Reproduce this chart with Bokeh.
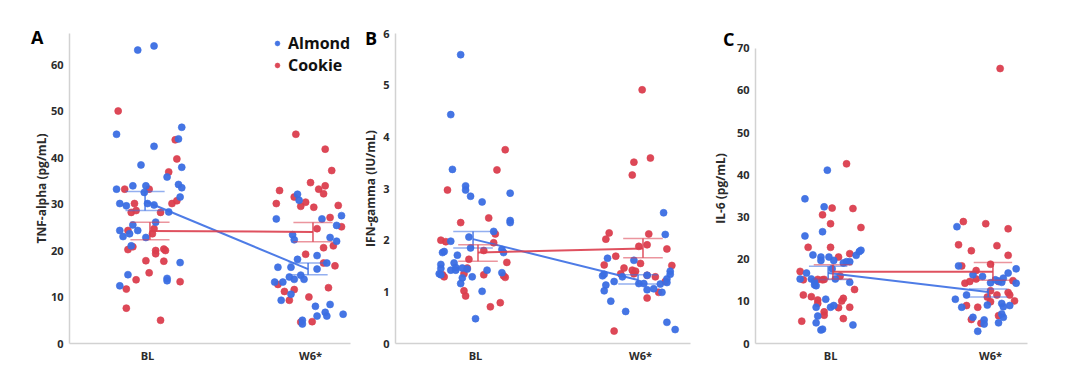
from bokeh.plotting import figure
from bokeh.layouts import row
from bokeh.models import Range1d, FixedTicker, Legend, LegendItem, Div
from bokeh.embed import file_html
from bokeh.resources import INLINE

BLUE = "#3b6ee3"
RED = "#db3e4e"
FONT = "Open Sans"
TXT = "#2b2b2b"

categories = ["BL", "W6*"]
groups = ["Almond", "Cookie"]
panel_letters = ["A", "B", "C"]

# ---------------- Panel A: TNF-alpha (pg/mL) ----------------
a_bl_almond = [63.1, 64.0, 45.0, 46.5, 42.4, 44.0, 38.4, 37.9, 35.8, 34.2, 33.5, 33.2, 33.9, 33.9,
               32.5, 30.1, 29.6, 30.1, 29.8, 31.5, 28.3, 26.1, 25.5, 24.3, 24.3, 23.6, 23.0, 22.8,
               21.0, 17.4, 14.8, 14.0, 13.5, 12.4]
a_bl_almond_jit = [-0.06, 0.04, -0.19, 0.21, 0.04, 0.19, -0.04, 0.21, 0.12, 0.19, 0.21, -0.19, -0.09, -0.01,
                   -0.02, -0.17, -0.13, 0.00, 0.04, 0.20, 0.13, 0.05, -0.09, -0.17, -0.06, -0.11, -0.15, -0.01,
                   -0.10, 0.20, -0.12, 0.12, 0.12, -0.17]
a_bl_cookie = [50.0, 43.8, 39.7, 36.9, 33.2, 33.2, 30.1, 30.7, 30.1, 28.2, 28.6, 28.2, 24.7, 24.3, 23.6,
               20.8, 20.2, 20.0, 19.3, 20.3, 20.0, 17.8, 17.7, 15.2, 13.7, 13.3, 11.7, 7.6, 5.0]
a_bl_cookie_jit = [-0.18, 0.17, 0.18, 0.13, -0.14, 0.01, 0.15, 0.18, -0.08, -0.10, -0.07, 0.08, 0.04, -0.12, 0.03,
                   -0.09, -0.12, 0.05, 0.05, 0.10, 0.11, -0.01, 0.10, 0.01, -0.07, 0.20, -0.13, -0.13, 0.08]
a_w6_almond = [32.1, 30.8, 26.8, 26.8, 27.5, 25.4, 23.4, 22.3, 22.8, 22.0, 18.1, 18.9, 16.4, 16.4, 16.0,
               17.3, 14.3, 13.8, 14.7, 13.8, 13.2, 13.2, 10.6, 9.3, 8.0, 8.4, 6.7, 5.9, 5.9, 6.3, 5.0, 4.2]
a_w6_almond_jit = [-0.08, -0.07, -0.21, 0.07, 0.19, 0.16, -0.11, -0.10, 0.12, 0.16, -0.08, 0.04, -0.20, -0.12, 0.04,
                   0.10, -0.13, -0.10, -0.06, -0.04, -0.22, -0.17, -0.12, -0.18, 0.03, 0.12, 0.09, 0.10, 0.04, 0.20, -0.05, -0.05]
a_w6_cookie = [45.0, 41.8, 37.2, 34.6, 33.2, 33.9, 32.2, 32.9, 30.1, 31.5, 30.4, 29.5, 29.3, 29.7, 27.1,
               25.1, 24.7, 20.6, 21.0, 19.2, 17.3, 16.7, 12.7, 11.2, 11.6, 10.0, 9.3, 12.0, 4.6, 4.7]
a_w6_cookie_jit = [-0.09, 0.09, 0.13, 0.00, 0.05, 0.09, 0.08, -0.19, -0.21, -0.10, -0.03, -0.06, 0.02, 0.17, 0.12,
                   0.19, 0.04, 0.08, 0.14, -0.03, 0.08, 0.15, -0.20, -0.16, -0.10, -0.01, -0.13, 0.11, -0.06, 0.01]
a_almond_mean = [30.6, 16.0]
a_almond_lo = [28.6, 14.8]
a_almond_hi = [32.7, 17.3]
a_cookie_mean = [24.2, 24.0]
a_cookie_lo = [22.3, 21.9]
a_cookie_hi = [26.1, 26.0]

# ---------------- Panel B: IFN-gamma (IU/mL) ----------------
b_bl_almond = [5.59, 4.43, 3.37, 3.05, 2.97, 2.85, 2.74, 2.91, 2.38, 2.34, 2.17, 2.06, 1.98, 1.85, 1.76,
               1.78, 1.82, 1.76, 1.71, 1.53, 1.45, 1.56, 1.47, 1.42, 1.42, 1.46, 1.44, 1.35, 1.33, 1.42,
               1.27, 1.29, 1.37, 1.16, 1.01, 0.48]
b_bl_almond_jit = [-0.09, -0.15, -0.14, -0.06, -0.06, -0.03, 0.04, 0.21, 0.21, 0.21, 0.11, -0.04, -0.15, -0.03, -0.20,
                   -0.19, 0.16, 0.17, -0.11, -0.21, -0.21, -0.13, -0.12, -0.15, -0.12, -0.08, -0.05, -0.22, -0.21, 0.07,
                   -0.08, -0.02, 0.16, -0.09, 0.04, 0.00]
b_bl_cookie = [3.75, 3.36, 2.97, 2.43, 2.34, 2.00, 1.97, 2.12, 1.95, 1.80, 1.63, 1.57, 1.46, 1.35, 1.33,
               1.29, 1.33, 1.31, 1.28, 1.02, 0.92, 0.71, 0.79]
b_bl_cookie_jit = [0.18, 0.13, -0.17, 0.08, -0.09, -0.21, -0.18, 0.12, 0.11, 0.05, -0.04, 0.19, -0.05, -0.07, -0.20,
                   -0.19, 0.05, 0.17, 0.18, -0.07, -0.06, 0.09, 0.15]
b_w6_almond = [2.53, 2.11, 1.65, 1.61, 1.40, 1.34, 1.31, 1.34, 1.13, 1.02, 0.82, 1.20, 0.62, 1.29, 1.16,
               1.16, 1.32, 1.04, 1.06, 1.15, 0.99, 1.25, 1.18, 0.41, 0.27]
b_w6_almond_jit = [0.14, 0.15, -0.20, -0.04, 0.18, 0.18, -0.23, -0.22, -0.21, -0.22, -0.18, -0.16, -0.09, -0.11, -0.01,
                   0.02, 0.04, 0.04, 0.08, 0.12, 0.13, 0.16, 0.16, 0.16, 0.21]
b_w6_cookie = [4.91, 3.59, 3.51, 3.26, 2.14, 2.02, 2.12, 1.91, 1.88, 1.83, 1.69, 1.52, 1.55, 1.51, 1.46,
               1.42, 1.40, 1.35, 1.35, 1.32, 1.29, 1.20, 0.99, 0.88, 0.24]
b_w6_cookie_jit = [0.01, 0.06, -0.04, -0.05, -0.19, -0.21, 0.05, 0.04, -0.01, 0.16, -0.15, -0.22, 0.00, 0.19, -0.10,
                   -0.05, -0.03, -0.04, -0.12, 0.04, 0.09, 0.15, 0.11, 0.04, -0.16]
b_almond_mean = [2.02, 1.23]
b_almond_lo = [1.85, 1.15]
b_almond_hi = [2.17, 1.33]
b_cookie_mean = [1.76, 1.84]
b_cookie_lo = [1.59, 1.66]
b_cookie_hi = [1.91, 2.03]

# ---------------- Panel C: IL-6 (pg/mL) ----------------
c_bl_almond = [41.1, 34.3, 32.4, 25.5, 26.5, 21.0, 20.5, 19.7, 20.5, 19.7, 19.1, 19.4, 19.4, 20.9, 21.8,
               22.1, 17.7, 16.7, 15.3, 15.3, 14.7, 13.9, 13.7, 15.3, 14.5, 10.5, 8.6, 9.0, 8.6, 6.5,
               4.9, 3.4, 3.2, 4.4]
c_bl_almond_jit = [-0.02, -0.16, -0.04, -0.16, -0.05, -0.11, -0.06, -0.06, -0.01, 0.02, 0.08, 0.10, 0.12, 0.16, 0.18,
                   0.19, 0.01, -0.15, -0.19, -0.12, -0.10, -0.10, -0.09, 0.03, 0.12, -0.03, 0.00, 0.02, -0.09, -0.08,
                   -0.09, -0.05, -0.06, 0.14]
c_bl_cookie = [42.6, 32.1, 32.0, 30.5, 28.4, 27.5, 22.8, 22.8, 21.3, 20.5, 17.1, 15.1, 15.2, 15.1, 15.2,
               16.0, 12.8, 11.5, 11.1, 10.3, 9.5, 10.7, 10.1, 8.5, 7.5, 6.7, 8.6, 5.9, 5.3]
c_bl_cookie_jit = [0.10, 0.01, 0.14, -0.05, 0.00, 0.19, -0.14, 0.00, 0.12, 0.05, -0.19, -0.17, -0.08, -0.05, -0.04,
                   0.06, 0.15, -0.17, -0.12, -0.08, -0.08, 0.08, 0.07, 0.05, -0.04, -0.04, 0.12, 0.08, -0.18]
c_w6_almond = [27.7, 18.4, 16.3, 15.9, 14.4, 15.1, 14.8, 14.5, 15.5, 16.7, 17.7, 14.3, 11.5, 10.5, 9.1,
               9.5, 8.7, 9.0, 8.6, 6.2, 5.6, 4.6, 7.0, 6.2, 4.9, 2.9]
c_w6_almond_jit = [-0.21, -0.20, -0.11, -0.05, 0.00, 0.03, 0.05, 0.07, 0.08, 0.11, 0.16, 0.16, -0.15, -0.22, -0.02,
                   0.07, 0.08, 0.12, -0.18, -0.11, -0.04, -0.04, 0.07, 0.08, 0.05, -0.08]
c_w6_cookie = [65.2, 28.9, 28.4, 27.2, 23.4, 22.0, 23.2, 20.9, 18.4, 18.8, 17.3, 15.3, 14.7, 14.3, 12.5,
               14.7, 14.9, 11.5, 12.1, 11.5, 10.1, 9.0, 8.6, 11.0, 9.9, 6.6, 5.7, 4.8]
c_w6_cookie_jit = [0.06, -0.17, -0.03, 0.11, -0.20, -0.12, 0.04, 0.11, -0.18, 0.00, -0.09, -0.09, -0.13, -0.16, 0.00,
                   0.05, 0.14, 0.04, 0.11, 0.12, 0.15, -0.15, -0.08, -0.02, 0.00, 0.05, -0.12, -0.06]
c_almond_mean = [16.7, 12.2]
c_almond_lo = [15.2, 11.0]
c_almond_hi = [18.3, 12.9]
c_cookie_mean = [17.0, 17.0]
c_cookie_lo = [15.3, 15.0]
c_cookie_hi = [18.7, 19.2]


def make_panel(ylabel, y_end, y_bound, y_ticks, x_start, x_end, width, b_left, b_right,
               points, stats, label_standoff):
    p = figure(width=width, height=370, output_backend="svg", toolbar_location=None,
               x_range=Range1d(x_start, x_end), y_range=Range1d(0, y_end),
               min_border_left=b_left, min_border_right=b_right, min_border_top=33, min_border_bottom=27)
    p.outline_line_color = None
    p.xgrid.grid_line_color = None
    p.ygrid.grid_line_color = None
    p.background_fill_color = "white"
    p.border_fill_color = "white"

    for ax in (p.xaxis, p.yaxis):
        ax.axis_line_color = "#d2d2d2"
        ax.axis_line_width = 1.5
        ax.major_tick_line_color = None
        ax.minor_tick_line_color = None
        ax.major_tick_out = 0
        ax.major_tick_in = 0
        ax.minor_tick_out = 0
        ax.major_label_text_font = FONT
        ax.major_label_text_font_style = "bold"
        ax.major_label_text_font_size = "11px"
        ax.major_label_text_color = TXT

    p.xaxis.major_label_standoff = 4
    p.yaxis.major_label_standoff = 6
    p.xaxis.ticker = FixedTicker(ticks=[0, 1])
    p.xaxis.major_label_overrides = {0: categories[0], 1: categories[1]}
    p.yaxis.ticker = FixedTicker(ticks=y_ticks)
    p.yaxis.bounds = (0, y_bound)
    p.yaxis.axis_label = ylabel
    p.yaxis.axis_label_text_font = FONT
    p.yaxis.axis_label_text_font_style = "bold"
    p.yaxis.axis_label_text_font_size = "12px"
    p.yaxis.axis_label_text_color = TXT
    p.yaxis.axis_label_standoff = label_standoff

    rends = {}
    for cat_idx, jit, vals, color, name in points:
        xs = [cat_idx + j for j in jit]
        r = p.scatter(xs, vals, size=7, marker="circle", fill_color=color, line_color=color,
                      fill_alpha=0.95, line_alpha=0.6)
        rends.setdefault(name, r)

    cap = 0.12
    for color, dodge, mean, lo, hi in stats:
        xc = [0 + dodge, 1 + dodge]
        p.segment(x0=xc, y0=lo, x1=xc, y1=hi, line_color=color, line_width=1.5, line_alpha=0.9)
        p.segment(x0=[x - cap for x in xc], y0=lo, x1=[x + cap for x in xc], y1=lo,
                  line_color=color, line_width=1.5, line_alpha=0.55)
        p.segment(x0=[x - cap for x in xc], y0=hi, x1=[x + cap for x in xc], y1=hi,
                  line_color=color, line_width=1.5, line_alpha=0.55)
        p.line(xc, mean, line_color=color, line_width=2, line_alpha=0.9)
    return p, rends


pA, rA = make_panel(
    "TNF-alpha (pg/mL)", 66.67, 66.67, [0, 10, 20, 30, 40, 50, 60], -0.4786, 1.2452, 358, 69, 8,
    [(0, a_bl_cookie_jit, a_bl_cookie, RED, groups[1]), (0, a_bl_almond_jit, a_bl_almond, BLUE, groups[0]),
     (1, a_w6_cookie_jit, a_w6_cookie, RED, groups[1]), (1, a_w6_almond_jit, a_w6_almond, BLUE, groups[0])],
    [(BLUE, -0.015, a_almond_mean, a_almond_lo, a_almond_hi),
     (RED, 0.015, a_cookie_mean, a_cookie_lo, a_cookie_hi)],
    -2)

legend = Legend(items=[LegendItem(label=groups[0], renderers=[rA[groups[0]]]),
                       LegendItem(label=groups[1], renderers=[rA[groups[1]]])],
                location=(202, 267), orientation="vertical",
                label_text_font=FONT, label_text_font_style="bold", label_text_font_size="16px",
                label_text_color="#111111", glyph_width=12, glyph_height=12, label_height=17,
                label_standoff=5, spacing=-3, padding=0, margin=0,
                background_fill_alpha=0, border_line_color=None)
pA.add_layout(legend, "center")

pB, _ = make_panel(
    "IFN-gamma (IU/mL)", 6, 6, [0, 1, 2, 3, 4, 5, 6], -0.485, 1.303, 347, 37, 15,
    [(0, b_bl_cookie_jit, b_bl_cookie, RED, groups[1]), (0, b_bl_almond_jit, b_bl_almond, BLUE, groups[0]),
     (1, b_w6_cookie_jit, b_w6_cookie, RED, groups[1]), (1, b_w6_almond_jit, b_w6_almond, BLUE, groups[0])],
    [(BLUE, -0.015, b_almond_mean, b_almond_lo, b_almond_hi),
     (RED, 0.015, b_cookie_mean, b_cookie_lo, b_cookie_hi)],
    1)

pC, _ = make_panel(
    "IL-6 (pg/mL)", 73.5, 70, [0, 10, 20, 30, 40, 50, 60, 70], -0.469, 1.231, 347, 50, 25,
    [(0, c_bl_cookie_jit, c_bl_cookie, RED, groups[1]), (0, c_bl_almond_jit, c_bl_almond, BLUE, groups[0]),
     (1, c_w6_cookie_jit, c_w6_cookie, RED, groups[1]), (1, c_w6_almond_jit, c_w6_almond, BLUE, groups[0])],
    [(BLUE, -0.015, c_almond_mean, c_almond_lo, c_almond_hi),
     (RED, 0.015, c_cookie_mean, c_cookie_lo, c_cookie_hi)],
    5)

letter_pos = [(31, 25), (365, 26), (723, 27)]
letter_divs = []
for letter, (lx, ly) in zip(panel_letters, letter_pos):
    letter_divs.append(Div(text=letter, styles={
        "position": "absolute", "left": f"{lx}px", "top": f"{ly}px", "z-index": "5",
        "font-family": FONT, "font-weight": "bold", "font-size": "18px", "color": "#000000",
        "line-height": "normal", "margin": "0", "padding": "0"}))

layout = row(pA, pB, pC, *letter_divs, spacing=0)
open("out.html", "w").write(file_html(layout, INLINE))
